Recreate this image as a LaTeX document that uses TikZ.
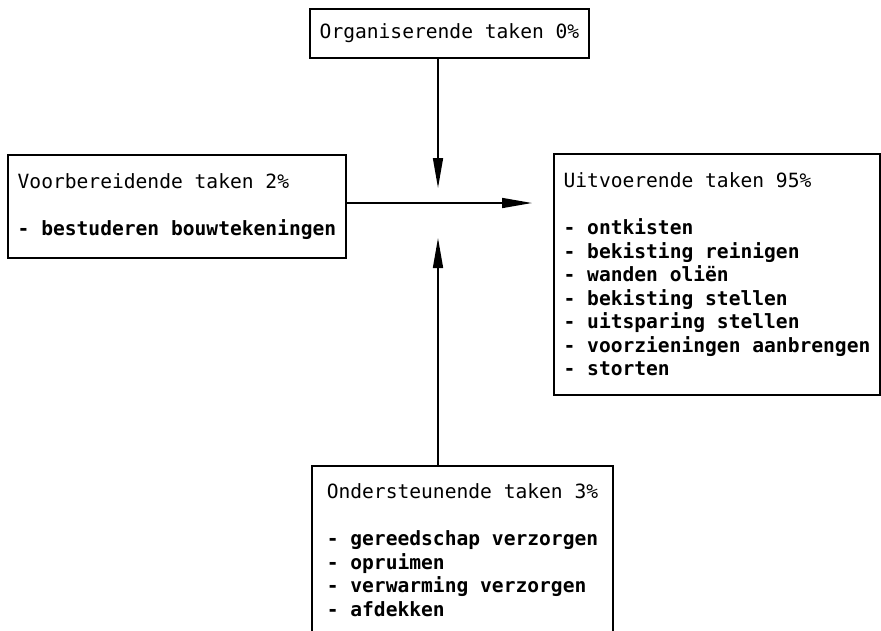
\documentclass[tikz,border=0pt]{standalone}
\usepackage{fontspec}
\setmonofont{DejaVu Sans Mono}
\usepackage{tikz}
\usetikzlibrary{arrows.meta}

\newcommand{\punt}[1]{\textbf{- #1}}

\tikzset{
  taak/.style={draw, line width=1.6pt, align=left, inner sep=0pt,
    font=\ttfamily\fontsize{19.6}{23.5}\selectfont},
  pijl/.style={line width=1.6pt, -{Triangle[length=30pt,width=10pt]}}
}

\begin{document}
\begin{tikzpicture}[x=1pt,y=-1pt]
\useasboundingbox (0,0) rectangle (881,630);
\clip (0,0) rectangle (881,630);

\node[taak, minimum width=279pt, minimum height=49pt] (org) at (449.5,33.5)
  {Organiserende taken 0\%};
\node[taak, minimum width=338pt, minimum height=103pt] (voor) at (177,206.5)
  {Voorbereidende taken 2\%\\[23.5pt]
   \punt{bestuderen bouwtekeningen}};
\node[taak, minimum width=326pt, minimum height=241pt] (uit) at (717,274.5)
  {Uitvoerende taken 95\%\\[23.5pt]
   \punt{ontkisten}\\
   \punt{bekisting reinigen}\\
   \punt{wanden oliën}\\
   \punt{bekisting stellen}\\
   \punt{uitsparing stellen}\\
   \punt{voorzieningen aanbrengen}\\
   \punt{storten}};
\node[taak, minimum width=301pt, minimum height=168pt] (onder) at (462.5,550)
  {Ondersteunende taken 3\%\\[23.5pt]
   \punt{gereedschap verzorgen}\\
   \punt{opruimen}\\
   \punt{verwarming verzorgen}\\
   \punt{afdekken}};

\coordinate (omlaag) at (438,188);
\coordinate (rechts) at (532,203);
\coordinate (omhoog) at (438,238);

\draw[pijl] (org.south -| omlaag) -- (omlaag);
\draw[pijl] (voor.east |- rechts) -- (rechts);
\draw[pijl] (onder.north -| omhoog) -- (omhoog);
\end{tikzpicture}
\end{document}
